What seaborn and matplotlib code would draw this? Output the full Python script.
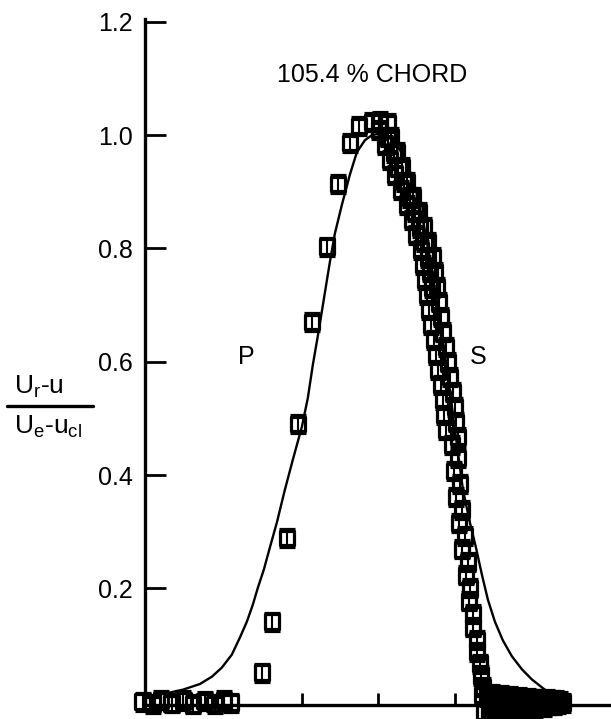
import matplotlib
matplotlib.use("Agg")
import matplotlib.pyplot as plt
import pandas as pd
import seaborn as sns
from matplotlib.lines import Line2D

sns.set_theme(style="white")
plt.rcParams["font.family"] = ["Liberation Sans", "DejaVu Sans"]
plt.rcParams["mathtext.fontset"] = "custom"
plt.rcParams["mathtext.rm"] = "Liberation Sans"
plt.rcParams["mathtext.it"] = "Liberation Sans"

# Faired wake profile (solid line)
curve_x = [-3.026, -2.791, -2.556, -2.333, -2.176, -2.046, -1.915, -1.810,
           -1.719, -1.641, -1.575, -1.497, -1.418, -1.327, -1.222, -1.118,
           -1.000, -0.922, -0.856, -0.778, -0.699, -0.634, -0.569, -0.477,
           -0.373, -0.281, -0.176, -0.085, -0.007,
           0.085, 0.190, 0.281, 0.386, 0.490, 0.595, 0.699, 0.804, 0.908,
           1.000, 1.105, 1.196, 1.275, 1.353, 1.431, 1.523, 1.627, 1.745,
           1.876, 2.007, 2.176, 2.346]
curve_y = [0.010, 0.014, 0.021, 0.031, 0.044, 0.060, 0.083, 0.113,
           0.141, 0.171, 0.201, 0.233, 0.272, 0.316, 0.374, 0.427,
           0.485, 0.536, 0.595, 0.656, 0.722, 0.776, 0.826, 0.877,
           0.930, 0.970, 0.991, 1.000, 1.002,
           1.000, 0.991, 0.974, 0.947, 0.903, 0.841, 0.762, 0.674, 0.577,
           0.480, 0.374, 0.316, 0.272, 0.224, 0.180, 0.141, 0.108, 0.080,
           0.057, 0.039, 0.021, 0.010]

# Pressure-side measurements
pressure_x = [-0.255, -0.373, -0.529, -0.673, -0.869, -1.052, -1.196, -1.392, -1.523]
pressure_y = [1.016, 0.986, 0.914, 0.803, 0.670, 0.490, 0.289, 0.141, 0.051]

# Suction-side measurements
suction_x = [-0.085, 0.020, 0.124,
             0.007, 0.163, 0.085, 0.242, 0.150, 0.307, 0.216, 0.373,
             0.294, 0.451, 0.373, 0.529, 0.438, 0.595, 0.490, 0.647,
             0.556, 0.712, 0.582, 0.739, 0.608, 0.765, 0.634, 0.791,
             0.660, 0.817, 0.686, 0.843, 0.725, 0.882, 0.752, 0.908,
             0.778, 0.935, 0.817, 0.974, 0.843, 1.000, 0.856, 1.013,
             0.882, 1.039,
             0.124, 0.203, 0.261, 0.333, 0.412, 0.484, 0.542, 0.601,
             0.647, 0.673, 0.699,
             0.961, 1.039, 0.987, 1.065, 1.013, 1.092, 1.052, 1.131,
             1.092, 1.170, 1.144, 1.196, 1.183, 1.235, 1.235, 1.288,
             1.288, 1.327, 1.340, 1.366]
suction_y = [1.023, 1.025, 1.021,
             1.009, 0.996, 0.983, 0.970, 0.956, 0.943, 0.930, 0.917,
             0.903, 0.890, 0.877, 0.864, 0.850, 0.837, 0.824, 0.811,
             0.797, 0.784, 0.771, 0.758, 0.745, 0.732, 0.718, 0.705,
             0.692, 0.679, 0.665, 0.652, 0.639, 0.626, 0.612, 0.599,
             0.586, 0.573, 0.559, 0.546, 0.533, 0.520, 0.506, 0.493,
             0.480, 0.467,
             0.996, 0.969, 0.943, 0.917, 0.890, 0.864, 0.837, 0.811,
             0.784, 0.758, 0.731,
             0.453, 0.430, 0.407, 0.384, 0.361, 0.338, 0.315, 0.292,
             0.269, 0.246, 0.223, 0.200, 0.177, 0.154, 0.131, 0.109,
             0.088, 0.067, 0.046, 0.026]

# Free-stream points outside the wake
outer_x = [-3.08, -2.95, -2.84, -2.70, -2.55, -2.42, -2.27, -2.14, -2.02, -1.93,
           1.36, 1.39, 1.42, 1.45, 1.48, 1.51, 1.54, 1.57, 1.60, 1.63,
           1.66, 1.69, 1.72, 1.75, 1.78, 1.81, 1.84, 1.87, 1.90, 1.93,
           1.96, 1.99, 2.02, 2.05, 2.08, 2.11, 2.14, 2.17, 2.20, 2.23,
           2.26, 2.29, 2.32, 2.35, 2.38, 2.41]
outer_y = [0.000, -0.004, 0.003, -0.003, 0.002, -0.005, 0.001, -0.004, 0.002, -0.002,
           0.012, -0.018, 0.008, -0.020, 0.014, -0.012, 0.006, -0.019, 0.011, -0.010,
           0.007, -0.017, 0.010, -0.011, 0.006, -0.015, 0.008, -0.009, 0.005, -0.013,
           0.006, -0.008, 0.004, -0.011, 0.005, -0.007, 0.003, -0.009, 0.004, -0.006,
           0.002, -0.006, 0.003, -0.004, 0.001, -0.002]

y_uncertainty = 0.016

y_ticks = [0.2, 0.4, 0.6, 0.8, 1.0, 1.2]
y_tick_labels = ["0.2", "0.4", "0.6", "0.8", "1.0", "1.2"]
x_ticks = [-1, 0, 1]

points = pd.concat([
    pd.DataFrame({"x": pressure_x, "y": pressure_y, "side": "P"}),
    pd.DataFrame({"x": suction_x, "y": suction_y, "side": "S"}),
    pd.DataFrame({"x": outer_x, "y": outer_y, "side": "outer"}),
], ignore_index=True)
profile = pd.DataFrame({"x": curve_x, "y": curve_y})

W, H = 611, 719
fig = plt.figure(figsize=(W / 100, H / 100), dpi=100, facecolor="white")
ax = fig.add_axes([145 / W, 1 - 705 / H, 1 - 145 / W, (705 - 19) / H])
ax.set_facecolor("white")

sns.lineplot(data=profile, x="x", y="y", sort=False, color="black",
             linewidth=1.7, ax=ax)

ax.errorbar(points["x"], points["y"], yerr=y_uncertainty, fmt="none",
            ecolor="black", elinewidth=1.5, capsize=6, capthick=2.3,
            clip_on=False, zorder=3)
sns.scatterplot(data=points, x="x", y="y", marker="s", s=110,
                facecolor="none", edgecolor="black", linewidth=2.3,
                clip_on=False, legend=False, ax=ax, zorder=4)

ax.set_xlim(-3.05, 3.04)
ax.set_ylim(-0.006, 1.205)
ax.set_xticks(x_ticks)
ax.set_yticks(y_ticks)
ax.set_yticklabels(y_tick_labels)
ax.set_xlabel("")
ax.set_ylabel("")

for side in ("top", "right"):
    ax.spines[side].set_visible(False)
for side in ("left", "bottom"):
    ax.spines[side].set_linewidth(2.4)
    ax.spines[side].set_color("black")

ax.tick_params(axis="y", direction="in", length=15, width=2.0, pad=9,
               labelsize=18, colors="black", left=True)
ax.tick_params(axis="x", direction="in", length=9, width=2.0,
               labelbottom=False, bottom=True, colors="black")

ax.text(-0.085, 1.106, "105.4 % CHORD", ha="center", va="center",
        fontsize=18, color="black")
ax.text(-1.73, 0.609, "P", ha="center", va="center", fontsize=18, color="black")
ax.text(1.31, 0.609, "S", ha="center", va="center", fontsize=18, color="black")

# Ordinate label written as a stacked fraction
fig.text(14 / W, 1 - 394 / H, r"$\mathregular{U_r}$-u", fontsize=19,
         ha="left", va="baseline", color="black")
fig.add_artist(Line2D([7 / W, 93 / W], [1 - 406 / H, 1 - 406 / H],
                      transform=fig.transFigure, color="black", linewidth=2.4))
fig.text(14 / W, 1 - 434 / H, r"$\mathregular{U_e}$-$\mathregular{u_{cl}}$",
         fontsize=19, ha="left", va="baseline", color="black")

fig.savefig("out.png", dpi=100, facecolor="white")
